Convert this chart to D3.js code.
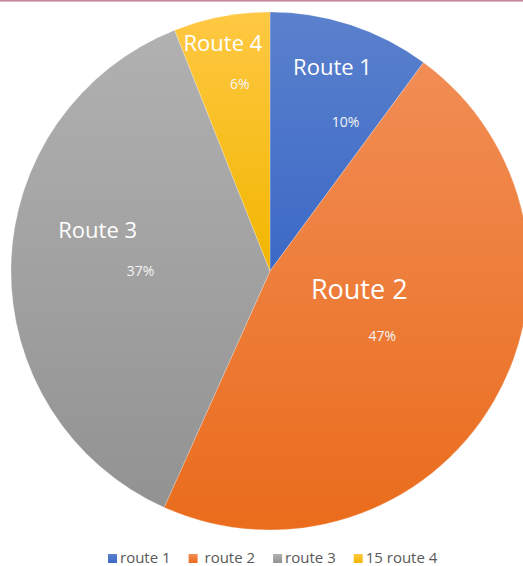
<!DOCTYPE html>
<html>
<head>
<meta charset="utf-8">
<script src="https://cdn.jsdelivr.net/npm/d3@7"></script>
<style>
  html, body { margin: 0; padding: 0; background: #fff; }
  svg { display: block; }
  text { font-family: "Open Sans", "Liberation Sans", sans-serif; }
</style>
</head>
<body>
<svg id="chart" width="523" height="566"></svg>
<script>
// ---- data ----
const categories = ["route 1", "route 2", "route 3", "route 4"];
const sliceNames = ["Route 1", "Route 2", "Route 3", "Route 4"];
const values = [10.1, 46.6, 37.3, 6.0];
const legendLabels = ["route 1", " route 2", "route 3", "15 route 4"];

// ---- styles / layout ----
const topColors = ["#5B81CD", "#F18D55", "#B1B1B1", "#FFC843"];
const bottomColors = ["#3B69C6", "#EA6C1C", "#929292", "#F1B600"];
const nameSizes = [22, 27, 22, 22];
const nameOffsets = [[14, -56], [-45, -60], [-17, -38], [-18, -75]];
const pctOffsets = [[27, -1], [-22, -13], [26, 3], [-1, -34]];

const W = 523, H = 566;
const cx = 270, cy = 271, R = 259;

const svg = d3.select("#chart");

// top rule
svg.append("rect").attr("x", 0).attr("y", 0).attr("width", W).attr("height", 1.6)
  .attr("fill", "#C8879E");

const defs = svg.append("defs");
categories.forEach((c, i) => {
  const g = defs.append("linearGradient").attr("id", "grad" + i)
    .attr("x1", 0).attr("y1", 0).attr("x2", 0).attr("y2", 1);
  g.append("stop").attr("offset", "0%").attr("stop-color", topColors[i]);
  g.append("stop").attr("offset", "100%").attr("stop-color", bottomColors[i]);
});

const total = d3.sum(values);
const pie = d3.pie().sort(null).value(d => d)(values);
const arc = d3.arc().innerRadius(0).outerRadius(R);
const labelArc = d3.arc().innerRadius(R * 0.6).outerRadius(R * 0.6);

const g = svg.append("g").attr("transform", `translate(${cx},${cy})`);

g.selectAll("path.slice").data(pie).join("path")
  .attr("class", "slice")
  .attr("d", arc)
  .attr("fill", (d, i) => `url(#grad${i})`)
  .attr("stroke", "#ffffff")
  .attr("stroke-opacity", 0.35)
  .attr("stroke-width", 0.6);

// slice names
g.selectAll("text.name").data(pie).join("text")
  .attr("class", "name")
  .attr("text-anchor", "middle")
  .attr("fill", "#ffffff")
  .attr("font-size", (d, i) => nameSizes[i])
  .attr("x", (d, i) => labelArc.centroid(d)[0] + nameOffsets[i][0])
  .attr("y", (d, i) => labelArc.centroid(d)[1] + nameOffsets[i][1] + nameSizes[i] * 0.36)
  .text((d, i) => sliceNames[i]);

// percentages
g.selectAll("text.pct").data(pie).join("text")
  .attr("class", "pct")
  .attr("text-anchor", "middle")
  .attr("fill", "#F4F4F4")
  .attr("font-size", 14)
  .attr("x", (d, i) => labelArc.centroid(d)[0] + pctOffsets[i][0])
  .attr("y", (d, i) => labelArc.centroid(d)[1] + pctOffsets[i][1] + 5)
  .text(d => Math.round(d.value / total * 100) + "%");

// legend
const legend = svg.append("g");
let lx = 108;
const ly = 558;
categories.forEach((c, i) => {
  const item = legend.append("g");
  item.append("rect").attr("x", lx).attr("y", ly - 4).attr("width", 9).attr("height", 9)
    .attr("fill", `url(#grad${i})`);
  const t = item.append("text")
    .attr("x", lx + 12).attr("y", ly + 4.5)
    .attr("font-size", 15)
    .attr("fill", "#595959")
    .style("white-space", "pre")
    .text(legendLabels[i]);
  const w = t.node().getComputedTextLength();
  lx = lx + 12 + w + 18;
});
</script>
</body>
</html>
